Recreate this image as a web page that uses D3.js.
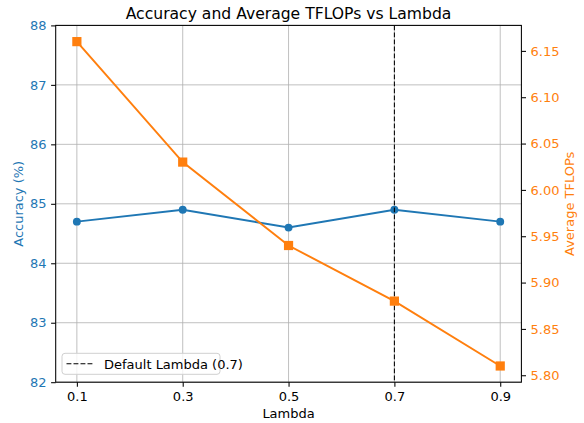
<!DOCTYPE html>
<html><head><meta charset="utf-8">
<script src="https://cdn.jsdelivr.net/npm/d3@7"></script>
<style>body{margin:0;background:#fff}svg{display:block;font-family:"DejaVu Sans",sans-serif}</style>
</head><body><svg id="c" width="584" height="423"></svg>
<script>
const lambdas = [0.1, 0.3, 0.5, 0.7, 0.9];
const accuracy = [84.7, 84.9, 84.6, 84.9, 84.7];
const tflops = [6.16, 6.03, 5.94, 5.88, 5.81];
const leftTicks = [82, 83, 84, 85, 86, 87, 88];
const rightTicks = [5.80, 5.85, 5.90, 5.95, 6.00, 6.05, 6.10, 6.15];
const defaultLambda = 0.7;

const blue = "#1f77b4", orange = "#ff7f0e";
const L = 55.7, R = 521.4, T = 25.4, B = 382.2;
const svg = d3.select("#c");
const x = d3.scaleLinear().domain([0.06, 0.94]).range([L, R]);
const yL = d3.scaleLinear().domain([82, 88]).range([B, T]);
const yR = d3.scaleLinear().domain([5.7925, 6.1775]).range([B, T]);

// grid
svg.append("g").selectAll("line").data(lambdas).join("line")
  .attr("x1", d => x(d)).attr("x2", d => x(d)).attr("y1", T).attr("y2", B)
  .attr("stroke", "#b0b0b0").attr("stroke-width", 0.8);
svg.append("g").selectAll("line").data(leftTicks).join("line")
  .attr("x1", L).attr("x2", R).attr("y1", d => yL(d)).attr("y2", d => yL(d))
  .attr("stroke", "#b0b0b0").attr("stroke-width", 0.8);

// accuracy
svg.append("path").datum(lambdas.map((l, i) => [l, accuracy[i]]))
  .attr("d", d3.line().x(d => x(d[0])).y(d => yL(d[1])))
  .attr("fill", "none").attr("stroke", blue).attr("stroke-width", 1.96);
svg.append("g").selectAll("circle").data(lambdas.map((l, i) => [l, accuracy[i]])).join("circle")
  .attr("cx", d => x(d[0])).attr("cy", d => yL(d[1])).attr("r", 3.95).attr("fill", blue);

// vline
svg.append("line").attr("x1", x(defaultLambda)).attr("x2", x(defaultLambda)).attr("y1", T).attr("y2", B)
  .attr("stroke", "#000").attr("stroke-width", 1.05).attr("stroke-dasharray", "4.9,2.1");

// tflops
svg.append("path").datum(lambdas.map((l, i) => [l, tflops[i]]))
  .attr("d", d3.line().x(d => x(d[0])).y(d => yR(d[1])))
  .attr("fill", "none").attr("stroke", orange).attr("stroke-width", 1.96);
svg.append("g").selectAll("rect").data(lambdas.map((l, i) => [l, tflops[i]])).join("rect")
  .attr("x", d => x(d[0]) - 4.6).attr("y", d => yR(d[1]) - 4.6).attr("width", 9.2).attr("height", 9.2).attr("fill", orange);

// axes
const fs = "13px";
const gx = svg.append("g").attr("transform", `translate(0,${B})`)
  .call(d3.axisBottom(x).tickValues(lambdas).tickFormat(d3.format(".1f")).tickSize(4.6).tickPadding(4.6));
const gl = svg.append("g").attr("transform", `translate(${L},0)`)
  .call(d3.axisLeft(yL).tickValues(leftTicks).tickFormat(d3.format("d")).tickSize(4.6).tickPadding(4.6));
const gr = svg.append("g").attr("transform", `translate(${R},0)`)
  .call(d3.axisRight(yR).tickValues(rightTicks).tickFormat(d3.format(".2f")).tickSize(4.6).tickPadding(4.6));
[gx, gl, gr].forEach(g => {
  g.select(".domain").remove();
  g.selectAll("text").attr("font-size", fs).attr("font-family", "DejaVu Sans");
  g.selectAll("line").attr("stroke", "#000").attr("stroke-width", 1.05);
});
gx.selectAll("text").attr("fill", "#000");
gl.selectAll("text").attr("fill", blue);
gr.selectAll("text").attr("fill", orange);

// spines
svg.append("rect").attr("x", L).attr("y", T).attr("width", R - L).attr("height", B - T)
  .attr("fill", "none").attr("stroke", "#000").attr("stroke-width", 1.05);

// labels
svg.append("text").attr("x", (L + R) / 2).attr("y", 19).attr("text-anchor", "middle")
  .attr("font-size", "15.6px").text("Accuracy and Average TFLOPs vs Lambda");
svg.append("text").attr("x", (L + R) / 2).attr("y", 418).attr("text-anchor", "middle")
  .attr("font-size", fs).text("Lambda");
svg.append("text").attr("transform", `translate(22.5,${(T + B) / 2}) rotate(-90)`).attr("text-anchor", "middle")
  .attr("font-size", fs).attr("fill", blue).text("Accuracy (%)");
svg.append("text").attr("transform", `translate(573.5,${(T + B) / 2}) rotate(-90)`).attr("text-anchor", "middle")
  .attr("font-size", fs).attr("fill", orange).text("Average TFLOPs");

// legend
const lg = svg.append("g");
lg.append("rect").attr("x", 62).attr("y", 353.3).attr("width", 158).attr("height", 21).attr("rx", 3)
  .attr("fill", "#fff").attr("fill-opacity", 0.8).attr("stroke", "#d0d0d0");
lg.append("line").attr("x1", 66.5).attr("x2", 93).attr("y1", 363.8).attr("y2", 363.8)
  .attr("stroke", "#000").attr("stroke-width", 1.05).attr("stroke-dasharray", "4.9,2.1");
lg.append("text").attr("x", 104).attr("y", 368.5).attr("font-size", fs).text("Default Lambda (0.7)");
</script></body></html>
